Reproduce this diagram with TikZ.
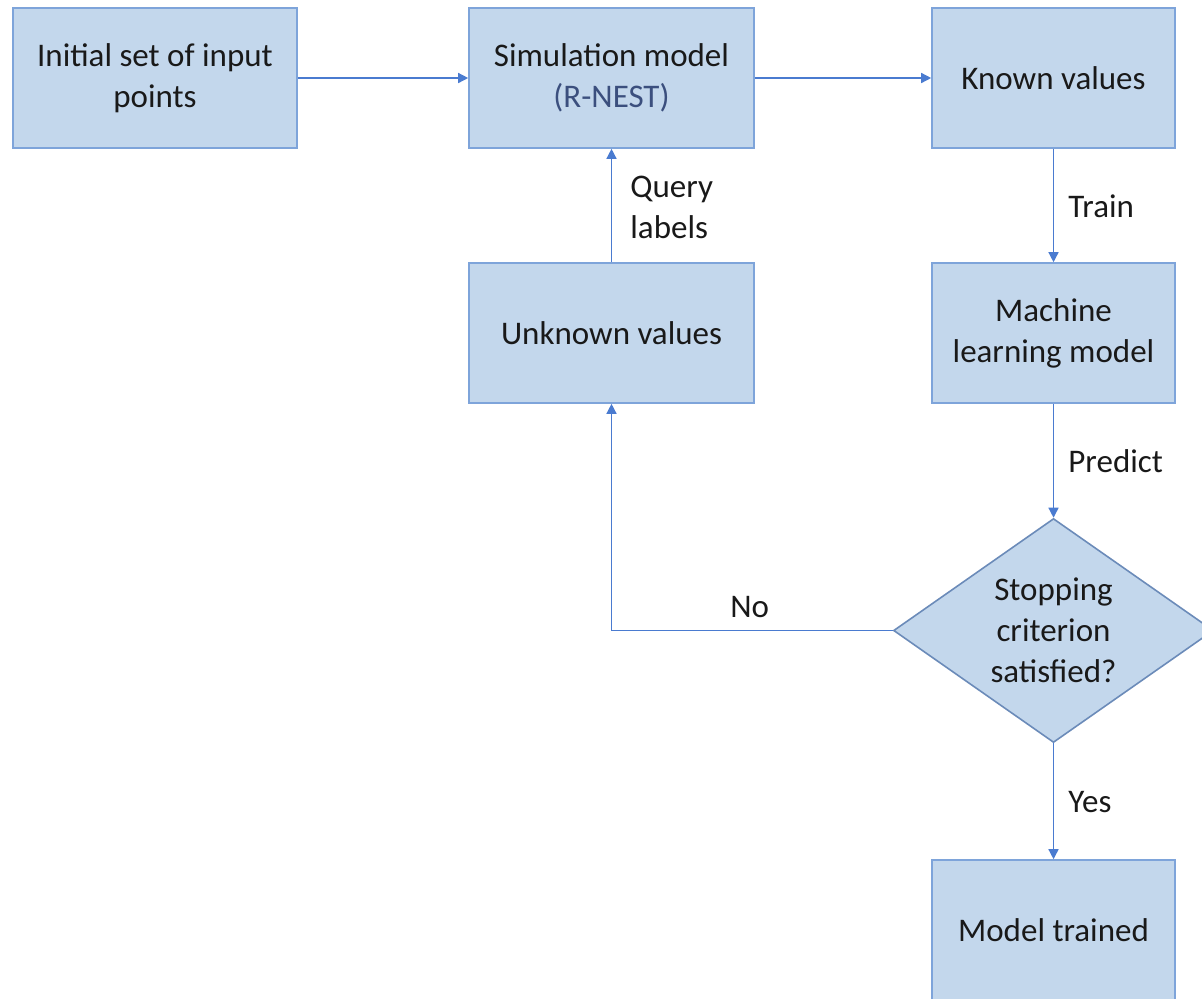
\documentclass[tikz,border=0pt]{standalone}
\usepackage{fontspec}
\setmainfont{Carlito}
\usetikzlibrary{shapes.geometric,arrows.meta}
\definecolor{boxfill}{HTML}{C3D7EC}
\definecolor{boxline}{HTML}{7EA4DA}
\definecolor{flow}{HTML}{4A7BD0}
\definecolor{subtext}{HTML}{3B4F7E}
\tikzset{
  every node/.style={font=\fontsize{16.5pt}{20.5pt}\selectfont, text=black!90},
  box/.style={draw=boxline, fill=boxfill, line width=0.8pt, rectangle,
              align=center, inner sep=0pt, minimum height=70pt},
  decision/.style={draw=boxline!85!black, fill=boxfill, line width=0.8pt, diamond,
              inner sep=0pt, minimum width=160pt, minimum height=112pt},
  flowline/.style={draw=flow, line width=0.7pt,
              -{Triangle[length=5pt,width=5pt]}},
  lbl/.style={align=left, inner sep=0pt, anchor=west}
}
\begin{document}
\begin{tikzpicture}[x=0.5pt, y=-0.5pt]
  \useasboundingbox (0,0) rectangle (1202,998);

  % process boxes
  \node[box, minimum width=142pt] (init) at (155,78) {Initial set of input\\points};
  \node[box, minimum width=142.5pt] (sim) at (611.5,78) {Simulation model\\\textcolor{subtext}{(R-NEST)}};
  \node[box, minimum width=121.5pt] (known) at (1053.5,78) {Known values};
  \node[box, minimum width=142.5pt] (unknown) at (611.5,333) {Unknown values};
  \node[box, minimum width=121.5pt] (ml) at (1053.5,333) {Machine\\learning model};
  \node[box, minimum width=121.5pt] (done) at (1053.5,930) {Model trained};

  % decision
  \node[decision] (stop) at (1053.5,630.5) {};
  \node[align=center, inner sep=0pt] (stoptext) at (stop.center) {Stopping\\criterion\\satisfied?};

  % connectors
  \draw[flowline] (init.east) -- (sim.west);
  \draw[flowline] (sim.east) -- (known.west);
  \draw[flowline] (known.south) -- (ml.north);
  \draw[flowline] (unknown.north) -- (sim.south);
  \draw[flowline] (ml.south) -- (stop.north);
  \draw[flowline] (stop.west) -| (unknown.south);
  \draw[flowline] (stop.south) -- (done.north);

  % connector labels
  \node[lbl] (train) at (1068,206) {Train};
  \node[lbl] (query) at (630,207) {Query\\labels};
  \node[lbl] (predict) at (1068,461) {Predict};
  \node[lbl] (no) at (730,607) {No};
  \node[lbl] (yes) at (1068,802) {Yes};
\end{tikzpicture}
\end{document}
